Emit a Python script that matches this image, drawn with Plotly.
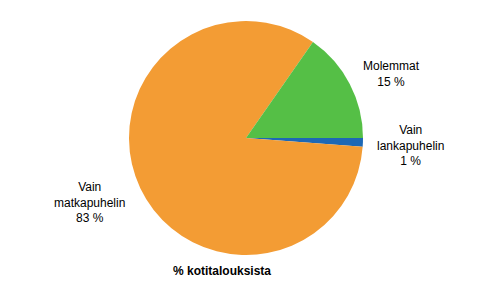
import plotly.graph_objects as go

labels = ["Vain lankapuhelin", "Vain matkapuhelin", "Molemmat"]
label_lines = ["Vain<br>lankapuhelin", "Vain<br>matkapuhelin", "Molemmat"]
values = [1.2, 83.5, 15.3]
pct_text = ["1 %", "83 %", "15 %"]
colors = ["#1D68B5", "#F39C34", "#55BF46"]
title_text = "% kotitalouksista"

W, H = 493, 304
cx, cy, r = 246, 138, 117

fig = go.Figure(go.Pie(
    labels=labels, values=values, sort=False, direction="clockwise",
    rotation=90, textinfo="none", hoverinfo="label+percent",
    marker=dict(colors=colors, line=dict(width=0)),
    domain=dict(x=[(cx - r) / W, (cx + r) / W], y=[1 - (cy + r) / H, 1 - (cy - r) / H]),
    showlegend=False,
))

label_pos = [(410, 145), (89, 202), (391, 74)]
for lab, pct, (px, py) in zip(label_lines, pct_text, label_pos):
    fig.add_annotation(x=px / W, y=1 - py / H, xref="paper", yref="paper",
                       xanchor="center", yanchor="middle",
                       text=f"{lab}<br>{pct}", showarrow=False, align="center",
                       font=dict(family="Liberation Sans, Arial", size=12, color="#000"))

fig.add_annotation(x=222 / W, y=1 - 271 / H, xref="paper", yref="paper",
                   xanchor="center", yanchor="middle",
                   text=f"<b>{title_text}</b>", showarrow=False,
                   font=dict(family="Liberation Sans, Arial", size=12, color="#000"))

fig.update_layout(width=W, height=H, margin=dict(l=0, r=0, t=0, b=0),
                  paper_bgcolor="white", plot_bgcolor="white")
fig.write_html("out.html")
